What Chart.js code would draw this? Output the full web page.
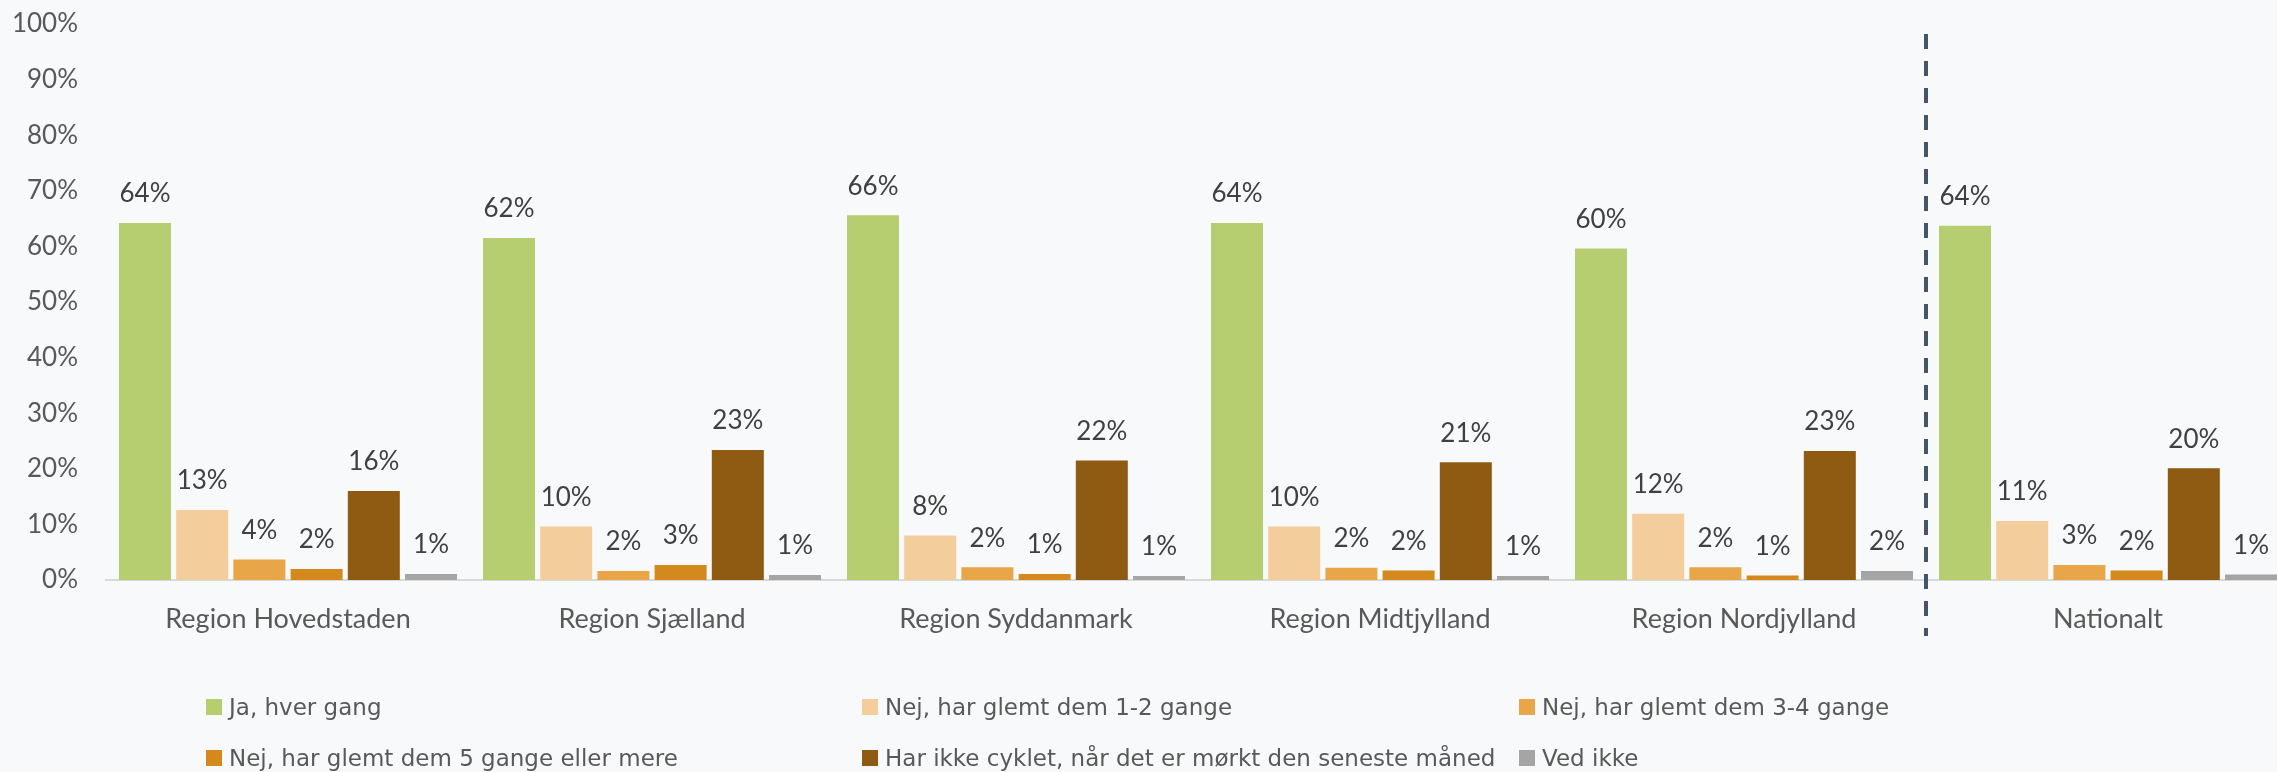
<!DOCTYPE html>
<html>
<head>
<meta charset="utf-8">
<script src="https://cdn.jsdelivr.net/npm/chart.js@4.4.1/dist/chart.umd.min.js"></script>
<style>
  html, body { margin: 0; padding: 0; background: #f8f9fa; overflow: hidden; }
  #wrap { position: relative; width: 2292px; height: 772px; }
  #c { position: absolute; left: 0; top: 0; }
  .lg { position: absolute; display: flex; align-items: center; font-family: "DejaVu Sans", sans-serif; font-size: 23px; color: #595959; white-space: nowrap; height: 26px; }
  .lg i { display: inline-block; width: 16px; height: 16px; margin-right: 7px; }
</style>
</head>
<body>
<div id="wrap">
  <canvas id="c" width="2292" height="772"></canvas>
  <div id="legend"></div>
</div>
<script>
const categories = ["Region Hovedstaden", "Region Sjælland", "Region Syddanmark", "Region Midtjylland", "Region Nordjylland", "Nationalt"];
const seriesNames = ["Ja, hver gang", "Nej, har glemt dem 1-2 gange", "Nej, har glemt dem 3-4 gange", "Nej, har glemt dem 5 gange eller mere", "Har ikke cyklet, når det er mørkt den seneste måned", "Ved ikke"];
const jaHverGang   = [64.2, 61.5, 65.6, 64.2, 59.6, 63.7];
const nej12        = [12.6, 9.6, 8.0, 9.6, 11.9, 10.6];
const nej34        = [3.7, 1.6, 2.3, 2.2, 2.3, 2.7];
const nej5         = [2.0, 2.7, 1.1, 1.7, 0.8, 1.7];
const ikkeCyklet   = [16.0, 23.4, 21.5, 21.2, 23.2, 20.1];
const vedIkke      = [1.1, 0.9, 0.7, 0.7, 1.6, 1.0];
const yTicks       = [0, 10, 20, 30, 40, 50, 60, 70, 80, 90, 100];
const colors = ["#b6cd70", "#f3cd9b", "#e8a649", "#d4891c", "#8f5b13", "#a5a5a5"];

const seriesValues = [jaHverGang, nej12, nej34, nej5, ikkeCyklet, vedIkke];
const FONT = "Lato, 'Open Sans', sans-serif";

const valueLabels = {
  id: 'valueLabels',
  afterDatasetsDraw(chart) {
    const ctx = chart.ctx;
    ctx.save();
    ctx.font = "26px " + FONT;
    ctx.fillStyle = "#404040";
    ctx.textAlign = "center";
    ctx.textBaseline = "middle";
    chart.data.datasets.forEach((ds, di) => {
      const meta = chart.getDatasetMeta(di);
      meta.data.forEach((bar, i) => {
        ctx.fillText(Math.round(ds.data[i]) + "%", bar.x, bar.y - 29);
      });
    });
    ctx.restore();
  }
};

const divider = {
  id: 'divider',
  afterDraw(chart) {
    const x = chart.scales.x;
    const px = (x.getPixelForValue(4) + x.getPixelForValue(5)) / 2;
    const y = chart.scales.y;
    const ctx = chart.ctx;
    ctx.save();
    ctx.strokeStyle = "#44546a";
    ctx.lineWidth = 4;
    ctx.setLineDash([15, 12]);
    ctx.beginPath();
    ctx.moveTo(px, y.getPixelForValue(100) + 10);
    ctx.lineTo(px, y.getPixelForValue(0) + 56);
    ctx.stroke();
    ctx.restore();
  }
};

new Chart(document.getElementById('c'), {
  type: 'bar',
  data: {
    labels: categories,
    datasets: seriesValues.map((vals, i) => ({
      label: seriesNames[i],
      data: vals,
      backgroundColor: colors[i],
      borderWidth: 0,
      categoryPercentage: 0.943,
      barPercentage: 0.909
    }))
  },
  options: {
    responsive: false,
    animation: false,
    devicePixelRatio: 1,
    layout: { padding: { top: 24, right: 2, left: 0, bottom: 0 } },
    plugins: { legend: { display: false }, tooltip: { enabled: false } },
    scales: {
      x: {
        grid: { display: false, drawTicks: false },
        border: { display: true, color: "#d9d9d9", width: 2 },
        ticks: { color: "#595959", font: { family: FONT, size: 27 }, padding: 23, maxRotation: 0 },
        afterFit(scale) { scale.height = 192; }
      },
      y: {
        min: 0, max: 100,
        grid: { display: false, drawTicks: true, tickLength: 28 },
        border: { display: false },
        afterBuildTicks(scale) { scale.ticks = yTicks.map(v => ({ value: v })); },
        ticks: { color: "#595959", font: { family: FONT, size: 26 }, padding: 0, callback: v => v + "%" },
        afterFit(scale) { scale.width = 106; }
      }
    }
  },
  plugins: [valueLabels, divider]
});

// legend (HTML, real text)
const legendPos = [[206, 707], [862, 707], [1519, 707], [206, 758], [862, 758], [1519, 758]];
const lg = document.getElementById('legend');
seriesNames.forEach((name, i) => {
  const d = document.createElement('div');
  d.className = 'lg';
  d.style.left = legendPos[i][0] + 'px';
  d.style.top = (legendPos[i][1] - 13) + 'px';
  d.innerHTML = '<i style="background:' + colors[i] + '"></i><span></span>';
  d.querySelector('span').textContent = name;
  lg.appendChild(d);
});
</script>
</body>
</html>
